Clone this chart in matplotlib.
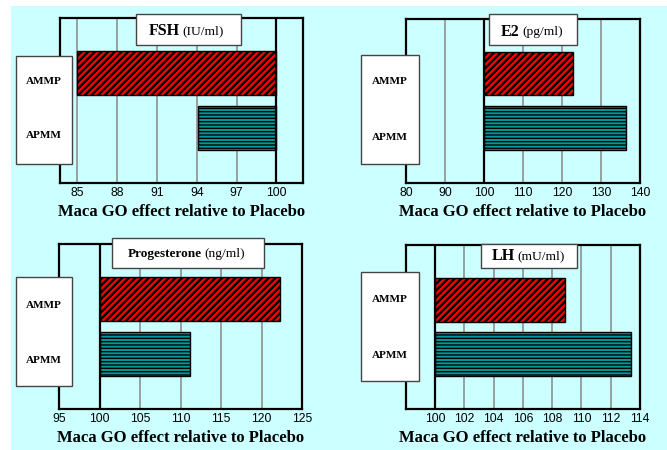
import numpy as np
import matplotlib.pyplot as plt
from matplotlib.patches import Rectangle

# hormone panels
hormones = ['FSH', 'E2', 'Progesterone', 'LH']
units = ['(IU/ml)', '(pg/ml)', '(ng/ml)', '(mU/ml)']
groups = ['AMMP', 'APMM']
ammp = [85.0, 122.7, 122.3, 108.9]
apmm = [94.1, 136.3, 111.1, 113.4]
xlims = [(83.7, 102.0), (80, 140), (95, 125), (98, 114)]
xticks = [[85, 88, 91, 94, 97, 100],
          [80, 90, 100, 110, 120, 130, 140],
          [95, 100, 105, 110, 115, 120, 125],
          [100, 102, 104, 106, 108, 110, 112, 114]]
baseline = 100
xlabel = 'Maca GO effect relative to Placebo'

W, H = 667, 450
BG = '#ccffff'
plt.rcParams['font.family'] = 'Liberation Serif'

fig = plt.figure(figsize=(6.67, 4.5), dpi=100)
fig.patch.set_facecolor('white')
fig.patches.append(Rectangle((11 / W, 0), 1, 1 - 6 / H, transform=fig.transFigure,
                             facecolor=BG, edgecolor='none', zorder=-5))


def fx(x):
    return x / W


def fy(y):
    return 1 - y / H


# layout in pixels: axes box, label box, label y's, title box, title split x
layout = [
    dict(ax=(60, 18, 303, 183), lab=(15.7, 55.7, 71.7, 164), laby=(81.7, 136),
         tbox=(136, 14, 240.7, 45), split=181, ty=31, bsize=11.5),
    dict(ax=(406, 19, 640, 182.7), lab=(360.7, 55, 419.3, 164), laby=(82, 137.3),
         tbox=(489.3, 14, 576.7, 45.3), split=520.5, ty=31.5, bsize=11.5),
    dict(ax=(59, 244, 302.3, 409), lab=(15.7, 277.3, 72, 386.3), laby=(305, 360.3),
         tbox=(111.7, 237.7, 264.3, 267.7), split=203, ty=253.5, bsize=9.5),
    dict(ax=(405.7, 245, 640, 409), lab=(360.7, 272.3, 419.3, 380.7), laby=(299, 355),
         tbox=(481.3, 244, 577.3, 267.7), split=516, ty=256, bsize=11.5),
]

bar_styles = [dict(facecolor='#ff0000', hatch='/////', hlw=1.7),
              dict(facecolor='#009999', hatch='-----', hlw=1.0)]

for i, name in enumerate(hormones):
    L = layout[i]
    x0, y0, x1, y1 = L['ax']
    ax = fig.add_axes([fx(x0), fy(y1), (x1 - x0) / W, (y1 - y0) / H])
    ax.set_facecolor(BG)
    ax.set_xlim(*xlims[i])
    ax.set_ylim(-1, 2)

    # grid lines
    for t in xticks[i]:
        if xlims[i][0] < t < xlims[i][1]:
            if t == baseline:
                ax.axvline(t, color='black', lw=1.6, zorder=3)
            else:
                ax.axvline(t, color='#888888', lw=1.1, zorder=1)

    vals = [ammp[i], apmm[i]]
    ypos = [1, 0]
    for v, yp, st in zip(vals, ypos, bar_styles):
        with plt.rc_context({'hatch.linewidth': st['hlw']}):
            bars = ax.barh(yp, abs(v - baseline), left=min(v, baseline), height=0.8,
                           facecolor=st['facecolor'], hatch=st['hatch'],
                           edgecolor='black', linewidth=1.0, zorder=2)
        for b in bars:
            if hasattr(b, 'set_hatch_linewidth'):
                b.set_hatch_linewidth(st['hlw'])

    ax.set_xticks(xticks[i])
    ax.set_xticklabels([str(t) for t in xticks[i]], fontfamily='Liberation Sans', fontsize=8.8)
    ax.tick_params(axis='x', length=0, pad=3)
    ax.set_yticks([])
    for s in ax.spines.values():
        s.set_linewidth(1.6)
        s.set_zorder(4)

    # group label box
    lx0, ly0, lx1, ly1 = L['lab']
    fig.patches.append(Rectangle((fx(lx0), fy(ly1)), (lx1 - lx0) / W, (ly1 - ly0) / H,
                                 transform=fig.transFigure, facecolor='white',
                                 edgecolor='#444444', linewidth=1.0, zorder=5))
    for g, gy in zip(groups, L['laby']):
        fig.text(fx((lx0 + lx1) / 2), fy(gy), g, ha='center', va='center',
                 fontsize=8, fontweight='bold', zorder=6)

    # title box
    tx0, ty0, tx1, ty1 = L['tbox']
    fig.patches.append(Rectangle((fx(tx0), fy(ty1)), (tx1 - tx0) / W, (ty1 - ty0) / H,
                                 transform=fig.transFigure, facecolor='white',
                                 edgecolor='#444444', linewidth=1.0, zorder=5))
    fig.text(fx(L['split'] - 1.5), fy(L['ty']), name, ha='right', va='center',
             fontsize=L['bsize'], fontweight='bold', zorder=6)
    fig.text(fx(L['split'] + 1.5), fy(L['ty']), units[i], ha='left', va='center',
             fontsize=9.7, zorder=6)

    # x label
    fig.text(fx((x0 + x1) / 2), fy(y1 + 29.5), xlabel, ha='center', va='center',
             fontsize=12, fontweight='bold')

fig.savefig('out.png', dpi=100, facecolor=fig.get_facecolor())
